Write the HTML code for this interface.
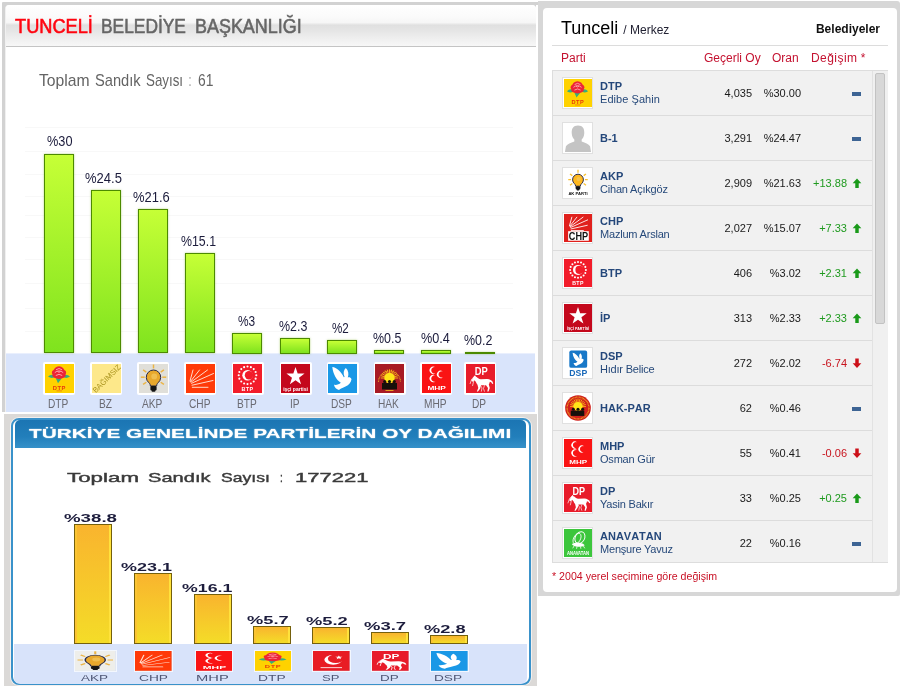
<!DOCTYPE html>
<html lang="tr">
<head>
<meta charset="utf-8">
<title>Tunceli Belediye Başkanlığı</title>
<style>
html,body{margin:0;padding:0;background:#fff;}
body{width:901px;height:698px;position:relative;overflow:hidden;font-family:"Liberation Sans",sans-serif;}
.t{position:absolute;white-space:nowrap;transform-origin:0 50%;}
svg{display:block;}
/* left top panel */
#p1{position:absolute;left:2px;top:2px;width:536px;height:410px;background:#d2d2d2;border-radius:1px 0 0 0;}
#p1r{position:absolute;left:536px;top:5px;width:2px;height:407px;background:#fff;}
#p1in{position:absolute;left:5px;top:5px;width:531px;height:407px;background:#fff;border-radius:4px 4px 0 0;overflow:hidden;border-left:1px solid #f0f0f0;box-sizing:border-box;}
#p1hd{position:absolute;left:0;top:0;width:530px;height:41px;background:linear-gradient(#ffffff 0,#fafafa 30%,#f6f6f6 43%,#e0e0e0 49%,#e5e5e5 62%,#eeeeee 80%,#f7f7f7 100%);border-bottom:1px solid #c4c4c4;}
.grid{position:absolute;left:25px;width:488px;height:1px;background:#f8f8f8;}
#band1{position:absolute;left:6px;top:353px;width:529px;height:59px;background:#d9e4fb;border-top:1px solid #e9effd;box-sizing:border-box;}
.gb{position:absolute;box-sizing:border-box;border:1px solid #4c8a00;background:linear-gradient(#c6ff36,#7fe31e);box-shadow:0 0 2px rgba(110,170,0,.5);}
.ic1{position:absolute;top:362px;width:32px;height:33px;background:#fff;border-radius:2px;}
.ic1 svg{position:absolute;left:1.5px;top:2px;width:29px;height:29px;}
/* left bottom panel */
#p2{position:absolute;left:4px;top:414px;width:532.5px;height:272px;background:#dbd9d7;}
#p2in{position:absolute;left:10.7px;top:418.3px;width:520.4px;height:267px;background:#fff;border:2px solid #3a92ca;border-radius:8px;box-sizing:border-box;box-shadow:0 0 0 1px #f4f0ee;}
#p2hd{position:absolute;left:14.8px;top:420px;width:511.6px;height:28.2px;background:linear-gradient(#1b75b3,#227fbb 60%,#3691c9);border-radius:5px 5px 0 0;}
#band2{position:absolute;left:14px;top:644px;width:512.5px;height:40px;background:#d8e3fa;border-radius:0 0 6px 6px;}
.yb{position:absolute;box-sizing:border-box;border:1.8px solid #74600c;background:linear-gradient(#f9b42e,#f4dc28);box-shadow:inset -2px 0 0 #ffe23c,inset 2px 0 0 #fbc432;filter:blur(.35px);}
.ic2{position:absolute;top:650.8px;width:42px;height:19.8px;box-shadow:0 0 0 1px rgba(255,255,255,.7);filter:blur(.3px);}
.ic2 svg{width:42px;height:19.8px;}
/* right panel */
#p3{position:absolute;left:538px;top:1px;width:362px;height:595px;background:#d7d7d7;border-radius:0 3px 2px 0;}
#p3in{position:absolute;left:543px;top:8px;width:354px;height:584px;background:#fff;border-radius:4px;}
.hl{position:absolute;left:552px;width:336px;height:1px;background:#dcdcdc;}
#tbl{position:absolute;left:552px;top:70px;width:336px;height:493px;background:#f1f1f1;border:1px solid #dddddd;box-sizing:border-box;}
.row{position:absolute;left:553px;width:319px;height:1px;background:#dcdcdc;}
.ib{position:absolute;left:562px;width:31px;height:32px;background:#fff;border:1px solid #e0e0e0;box-sizing:border-box;}
.ib svg{position:absolute;left:1px;top:1px;width:28px;height:28px;}
.nm{position:absolute;left:600px;font-size:11px;line-height:13px;font-weight:bold;color:#24477a;white-space:nowrap;font-kerning:none;}
.sb{position:absolute;left:600px;font-size:11px;line-height:13px;color:#26497a;white-space:nowrap;letter-spacing:-0.2px;}
.n1{position:absolute;left:652px;width:100px;text-align:right;font-size:11px;line-height:13px;color:#1a1a1a;}
.n2{position:absolute;left:701px;width:100px;text-align:right;font-size:11px;line-height:13px;color:#1a1a1a;}
.n3{position:absolute;left:747px;width:100px;text-align:right;font-size:11px;line-height:13px;}
.up{color:#1f9a1f;} .dn{color:#c8141e;}
.dash{position:absolute;left:852px;width:9px;height:4px;background:#3d6494;}
.ar{position:absolute;left:851.7px;width:10px;height:10.4px;}
.th{position:absolute;top:51px;font-size:12px;line-height:14px;color:#c41230;white-space:nowrap;}
#sbar{position:absolute;left:872px;top:71px;width:15px;height:491px;background:#f0f0f0;border-left:1px solid #e2e2e2;}
#sthumb{position:absolute;left:875px;top:73px;width:10px;height:251px;background:#d8d8d8;border:1px solid #c2c2c2;box-sizing:border-box;border-radius:2px;}
</style>
</head>
<body>

<div id="p1"></div><div id="p1r"></div><div id="p1in"><div id="p1hd"></div></div>
<div class="grid" style="top:127px"></div>
<div class="grid" style="top:151px"></div>
<div class="grid" style="top:174px"></div>
<div class="grid" style="top:196px"></div>
<div class="grid" style="top:215px"></div>
<div class="grid" style="top:237px"></div>
<div class="grid" style="top:259px"></div>
<div class="grid" style="top:283px"></div>
<div class="grid" style="top:308px"></div>
<div class="grid" style="top:331px"></div>
<div id="band1"></div>
<div class="t" style="left:15.30px;top:15.73px;font-size:19.30px;line-height:21.56px;color:#ff0510;transform:scaleX(0.9447);-webkit-text-stroke:.55px #ff0510;">TUNCELİ</div>
<div class="t" style="left:101.30px;top:15.73px;font-size:19.30px;line-height:21.56px;color:#666;transform:scaleX(0.9005);-webkit-text-stroke:.55px #666;">BELEDİYE</div>
<div class="t" style="left:195.20px;top:15.73px;font-size:19.30px;line-height:21.56px;color:#666;transform:scaleX(0.9305);-webkit-text-stroke:.55px #666;">BAŞKANLIĞI</div>
<div class="t" style="left:38.60px;top:71.21px;font-size:17.00px;line-height:18.99px;color:#646464;transform:scaleX(0.9250);">Toplam</div>
<div class="t" style="left:95.20px;top:71.21px;font-size:17.00px;line-height:18.99px;color:#646464;transform:scaleX(0.8611);">Sandık</div>
<div class="t" style="left:146.00px;top:71.21px;font-size:17.00px;line-height:18.99px;color:#646464;transform:scaleX(0.7832);">Sayısı</div>
<div class="t" style="left:188.90px;top:71.21px;font-size:17.00px;line-height:18.99px;color:#646464;transform:scaleX(0.4232);">:</div>
<div class="t" style="left:198.20px;top:71.21px;font-size:17.00px;line-height:18.99px;color:#646464;transform:scaleX(0.8146);">61</div>
<div class="gb" style="left:44px;top:154px;width:30px;height:199px;"></div>
<div class="t" style="left:46.65px;top:134.03px;font-size:14.00px;line-height:15.64px;color:#1c1c3c;transform:scaleX(0.9103);">%30</div>
<div class="ic1" style="left:43px"><svg viewBox="0 0 29 29" ><rect width="29" height="29" fill="#ffd200"/><path d="M3 12.6 Q6.500 9.200 10.800 12 Q7.500 15.800 3 12.600Z M25 12.600 Q21.500 9.200 17.200 12 Q20.500 15.800 25 12.600Z M10.800 14.300 L16.800 14.300 L13 19.200Z" fill="#36ae7e"/><circle cx="14" cy="8" r="5.700" fill="#ec2436"/><ellipse cx="14" cy="11.300" rx="6.600" ry="3.600" fill="#ec2436"/><circle cx="9.500" cy="8.500" r="2.600" fill="#ec2436"/><circle cx="18.500" cy="8.500" r="2.600" fill="#ec2436"/><path d="M11 5.800 q3 -2.600 6 0 M9.800 8.600 q4.200 -3.400 8.400 0 M10.800 11.500 q3.200 -2.400 6.400 0 M12.500 7.500 q1.500 1.500 3 0" stroke="#ffb4bc" stroke-width=".85" fill="none"/><text x="14.300" y="25.600" font-size="5.800" font-weight="bold" text-anchor="middle" fill="#e8380c" font-family="Liberation Sans, sans-serif" letter-spacing=".5">DTP</text><rect x="11.500" y="26.500" width="5.500" height=".8" fill="#e8380c" opacity=".6"/></svg></div>
<div class="t" style="left:48.36px;top:397.24px;font-size:13.00px;line-height:14.52px;color:#6a6a72;transform:scaleX(0.7800);">DTP</div>
<div class="gb" style="left:91px;top:190px;width:30px;height:163px;"></div>
<div class="t" style="left:85.45px;top:170.73px;font-size:14.00px;line-height:15.64px;color:#1c1c3c;transform:scaleX(0.9297);">%24.5</div>
<div class="ic1" style="left:90px"><svg viewBox="0 0 29 29" ><rect width="29" height="29" fill="#fde88a"/><text x="14.500" y="17.400" font-size="7.600" text-anchor="middle" fill="#a8921c" font-family="Liberation Sans, sans-serif" transform="rotate(-45 14.500 14.500)">BAĞIMSIZ</text></svg></div>
<div class="t" style="left:99.02px;top:397.24px;font-size:13.00px;line-height:14.52px;color:#6a6a72;transform:scaleX(0.7799);">BZ</div>
<div class="gb" style="left:138px;top:209px;width:30px;height:144px;"></div>
<div class="t" style="left:133.05px;top:189.73px;font-size:14.00px;line-height:15.64px;color:#1c1c3c;transform:scaleX(0.9247);">%21.6</div>
<div class="ic1" style="left:137px"><svg viewBox="0 0 29 29" ><rect width="29" height="29" fill="#e0dfd9"/><g stroke="#ecb444" stroke-width="1.5"><path d="M14.50 4.40 L14.50 0.50"/><path d="M7.29 8.15 L4.10 5.92"/><path d="M21.71 8.15 L24.90 5.92"/><path d="M5.70 13.20 L1.80 13.20"/><path d="M23.30 13.20 L27.20 13.20"/><path d="M7.29 18.25 L4.10 20.48"/><path d="M21.71 18.25 L24.90 20.48"/></g><path d="M9.89 18.74 a7.20 7.20 0 1 1 9.22 0 c-1.08 1.08 -1.44 1.80 -1.44 3.24 h-6.34 c0 -1.44 -0.36 -2.16 -1.44 -3.24 Z" fill="#e8a82c" stroke="#2a2a48" stroke-width="1"/><rect x="11.40" y="21.98" width="6.19" height="4.46" rx="1" fill="#151515"/><rect x="12.64" y="25.58" width="3.72" height="2.16" rx=".8" fill="#151515"/><circle cx="15.22" cy="12.48" r="2.88" fill="#f4c860" opacity=".7"/></svg></div>
<div class="t" style="left:142.35px;top:397.24px;font-size:13.00px;line-height:14.52px;color:#6a6a72;transform:scaleX(0.7800);">AKP</div>
<div class="gb" style="left:185px;top:253px;width:30px;height:100px;"></div>
<div class="t" style="left:180.80px;top:233.73px;font-size:14.00px;line-height:15.64px;color:#1c1c3c;transform:scaleX(0.8818);">%15.1</div>
<div class="ic1" style="left:184px"><svg viewBox="0 0 29 29" ><rect width="29" height="29" fill="#ff3a08"/><path d="M4.00 17.00 L7.00 6.00M4.50 17.50 L13.50 6.00M5.00 18.20 L21.50 6.00M5.50 19.30 L27.50 9.50M6.00 21.20 L27.00 16.50M6.30 23.30 L22.00 23.30" stroke="#ffe2d4" stroke-width="0.95" fill="none" stroke-linecap="round"/></svg></div>
<div class="t" style="left:188.80px;top:397.24px;font-size:13.00px;line-height:14.52px;color:#6a6a72;transform:scaleX(0.7801);">CHP</div>
<div class="gb" style="left:232px;top:333px;width:30px;height:21px;"></div>
<div class="t" style="left:238.40px;top:313.73px;font-size:14.00px;line-height:15.64px;color:#1c1c3c;transform:scaleX(0.8502);">%3</div>
<div class="ic1" style="left:231.5px"><svg viewBox="0 0 29 29" ><rect width="29" height="29" fill="#f21c2a"/><circle cx="23.30" cy="11.30" r="1.050" fill="#fff"/><circle cx="22.63" cy="14.67" r="1.050" fill="#fff"/><circle cx="20.72" cy="17.52" r="1.050" fill="#fff"/><circle cx="17.87" cy="19.43" r="1.050" fill="#fff"/><circle cx="14.50" cy="20.10" r="1.050" fill="#fff"/><circle cx="11.13" cy="19.43" r="1.050" fill="#fff"/><circle cx="8.28" cy="17.52" r="1.050" fill="#fff"/><circle cx="6.37" cy="14.67" r="1.050" fill="#fff"/><circle cx="5.70" cy="11.30" r="1.050" fill="#fff"/><circle cx="6.37" cy="7.93" r="1.050" fill="#fff"/><circle cx="8.28" cy="5.08" r="1.050" fill="#fff"/><circle cx="11.13" cy="3.17" r="1.050" fill="#fff"/><circle cx="14.50" cy="2.50" r="1.050" fill="#fff"/><circle cx="17.87" cy="3.17" r="1.050" fill="#fff"/><circle cx="20.72" cy="5.08" r="1.050" fill="#fff"/><circle cx="22.63" cy="7.93" r="1.050" fill="#fff"/><circle cx="14.5" cy="11.3" r="5.200" fill="#fff"/><circle cx="16" cy="11.3" r="4.200" fill="#f21c2a"/><text x="14.500" y="26.600" font-size="5.400" font-weight="bold" text-anchor="middle" fill="#fff" font-family="Liberation Sans, sans-serif" letter-spacing=".4">BTP</text></svg></div>
<div class="t" style="left:236.64px;top:397.24px;font-size:13.00px;line-height:14.52px;color:#6a6a72;transform:scaleX(0.7799);">BTP</div>
<div class="gb" style="left:280px;top:338px;width:30px;height:16px;"></div>
<div class="t" style="left:279.30px;top:318.73px;font-size:14.00px;line-height:15.64px;color:#1c1c3c;transform:scaleX(0.8901);">%2.3</div>
<div class="ic1" style="left:279.5px"><svg viewBox="0 0 29 29" ><rect width="29" height="29" fill="#c4081c"/><path d="M14.50 3.00 L16.67 9.51 L23.54 9.56 L18.02 13.64 L20.08 20.19 L14.50 16.20 L8.92 20.19 L10.98 13.64 L5.46 9.56 L12.33 9.51Z" fill="#fff"/><text x="14.500" y="26.800" font-size="5" font-weight="bold" text-anchor="middle" fill="#fff" font-family="Liberation Sans, sans-serif">işçi partisi</text></svg></div>
<div class="t" style="left:289.71px;top:397.24px;font-size:13.00px;line-height:14.52px;color:#6a6a72;transform:scaleX(0.7799);">IP</div>
<div class="gb" style="left:327px;top:340px;width:30px;height:14px;"></div>
<div class="t" style="left:331.80px;top:320.73px;font-size:14.00px;line-height:15.64px;color:#1c1c3c;transform:scaleX(0.8304);">%2</div>
<div class="ic1" style="left:326.5px"><svg viewBox="0 0 29 29" ><rect width="29" height="29" fill="#1a98e6"/><path d="M4.300 3 C8.500 3.500 13.500 8 15.800 13.200 L16.600 13 C15 9.500 15.500 6 17.800 4 C20.500 6.500 21 10.500 19.800 13.500 C21.300 13 22.800 13.500 23.500 15.300 C23 18.500 21 21 17.500 22.500 C14.500 24 12.500 24.500 11 26 C8.500 25.500 6.500 23.500 6 20.800 C8.500 21.300 11 20.500 12.800 18.800 C8.500 16 5 10 4.300 3Z" fill="#fff"/></svg></div>
<div class="t" style="left:331.08px;top:397.24px;font-size:13.00px;line-height:14.52px;color:#6a6a72;transform:scaleX(0.7801);">DSP</div>
<div class="gb" style="left:374px;top:350px;width:30px;height:4px;"></div>
<div class="t" style="left:373.40px;top:330.73px;font-size:14.00px;line-height:15.64px;color:#1c1c3c;transform:scaleX(0.8901);">%0.5</div>
<div class="ic1" style="left:373.5px"><svg viewBox="0 0 29 29" ><rect width="29" height="29" fill="#a81a24"/><path d="M3.500 18 A11 11 0 0 1 25.500 18" fill="none" stroke="#e8a020" stroke-width="1.100" stroke-dasharray=".9 .6"/><g stroke="#f8a818" stroke-width="1"><path d="M14.50 14.00 L5.80 14.00"/><path d="M14.50 14.00 L6.10 11.75"/><path d="M14.50 14.00 L6.97 9.65"/><path d="M14.50 14.00 L8.35 7.85"/><path d="M14.50 14.00 L10.15 6.47"/><path d="M14.50 14.00 L12.25 5.60"/><path d="M14.50 14.00 L14.50 5.30"/><path d="M14.50 14.00 L16.75 5.60"/><path d="M14.50 14.00 L18.85 6.47"/><path d="M14.50 14.00 L20.65 7.85"/><path d="M14.50 14.00 L22.03 9.65"/><path d="M14.50 14.00 L22.90 11.75"/><path d="M14.50 14.00 L23.20 14.00"/></g><circle cx="14.5" cy="14" r="5.2" fill="#ffe418"/><circle cx="9.70" cy="17.60" r="1.600" fill="#16100a"/><circle cx="14.50" cy="17.60" r="1.600" fill="#16100a"/><circle cx="19.30" cy="17.60" r="1.600" fill="#16100a"/><path d="M7.00 19.00 h15 v6.500 h-15Z" fill="#16100a"/><rect x="10.500" y="26" width="8" height="1" fill="#e8a020"/></svg></div>
<div class="t" style="left:378.08px;top:397.24px;font-size:13.00px;line-height:14.52px;color:#6a6a72;transform:scaleX(0.7801);">HAK</div>
<div class="gb" style="left:421px;top:350px;width:30px;height:4px;"></div>
<div class="t" style="left:421.00px;top:330.73px;font-size:14.00px;line-height:15.64px;color:#1c1c3c;transform:scaleX(0.9027);">%0.4</div>
<div class="ic1" style="left:420.2px"><svg viewBox="0 0 29 29" ><rect width="29" height="29" fill="#fa1414"/><path d="M13.46 3.30 A3.70 3.70 0 1 0 13.46 9.30 A3.18 3.18 0 1 1 13.46 3.30Z" fill="#fff"/><path d="M20.76 7.40 A3.70 3.70 0 1 0 20.76 13.40 A3.18 3.18 0 1 1 20.76 7.40Z" fill="#fff"/><path d="M13.46 11.50 A3.70 3.70 0 1 0 13.46 17.50 A3.18 3.18 0 1 1 13.46 11.50Z" fill="#fff"/><text x="14.700" y="25.800" font-size="5.8" font-weight="bold" text-anchor="middle" fill="#fff" font-family="Liberation Sans, sans-serif" textLength="18.500" lengthAdjust="spacingAndGlyphs">MHP</text></svg></div>
<div class="t" style="left:424.23px;top:397.24px;font-size:13.00px;line-height:14.52px;color:#6a6a72;transform:scaleX(0.7801);">MHP</div>
<div class="gb" style="left:465px;top:352px;width:30px;height:2px;"></div>
<div class="t" style="left:464.40px;top:332.73px;font-size:14.00px;line-height:15.64px;color:#1c1c3c;transform:scaleX(0.8901);">%0.2</div>
<div class="ic1" style="left:464px"><svg viewBox="0 0 29 29" ><rect width="29" height="29" fill="#e81c2a"/><text x="15.300" y="11" font-size="11.400" font-weight="bold" text-anchor="middle" fill="#fff" font-family="Liberation Sans, sans-serif" textLength="13" lengthAdjust="spacingAndGlyphs">DP</text><path d="M5.300 16.800 L7.800 12.600 L9 11.300 L9.800 12.600 L12.200 14.200 Q13.500 15.400 15 15.300 L20.500 15 Q23 14.800 24.500 16 Q26.500 16.300 27.300 19.500 L26.300 20 Q25.300 17.800 23.800 17.800 Q23.500 19.500 22.800 20.500 L23.800 24 L22.500 27.600 L21.300 27.600 L22 24 L20 21.300 L15 21.300 L14.200 24.500 L12 27.600 L10.800 27.600 L12.300 24 L11.500 20.800 Q10.300 19.500 9.800 17.800 L8.300 16.300 L6.800 17.800Z" fill="#fff"/><path d="M9 12 Q5 14 4 20 M10.500 13 Q7 16 6.500 22 M18.500 21.300 L17.500 24.500 L18.500 27.600 M14.500 21.300 L16 24 L15.300 27.600" stroke="#fff" stroke-width=".8" fill="none" opacity=".85"/></svg></div>
<div class="t" style="left:472.46px;top:397.24px;font-size:13.00px;line-height:14.52px;color:#6a6a72;transform:scaleX(0.7801);">DP</div>
<div id="p2"></div><div id="p2in"></div><div id="p2hd"></div><div id="band2"></div>
<div class="t" style="left:28.60px;top:426.19px;font-size:13.60px;line-height:15.19px;color:#fff;font-weight:bold;transform:scaleX(1.5298);text-shadow:0 0 1px #fff;">TÜRKİYE GENELİNDE PARTİLERİN OY DAĞILIMI</div>
<div class="t" style="left:66.70px;top:470.55px;font-size:13.20px;line-height:14.74px;color:#3a3a3a;transform:scaleX(1.6942);filter:blur(.4px);-webkit-text-stroke:.4px #3a3a3a;">Toplam</div>
<div class="t" style="left:148.20px;top:470.55px;font-size:13.20px;line-height:14.74px;color:#3a3a3a;transform:scaleX(1.5224);filter:blur(.4px);-webkit-text-stroke:.4px #3a3a3a;">Sandık</div>
<div class="t" style="left:220.60px;top:470.55px;font-size:13.20px;line-height:14.74px;color:#3a3a3a;transform:scaleX(1.3330);filter:blur(.4px);-webkit-text-stroke:.4px #3a3a3a;">Sayısı</div>
<div class="t" style="left:279.80px;top:470.55px;font-size:13.20px;line-height:14.74px;color:#3a3a3a;transform:scaleX(0.7630);filter:blur(.4px);-webkit-text-stroke:.4px #3a3a3a;">:</div>
<div class="t" style="left:294.50px;top:470.55px;font-size:13.20px;line-height:14.74px;color:#3a3a3a;transform:scaleX(1.6686);filter:blur(.4px);-webkit-text-stroke:.4px #3a3a3a;">177221</div>
<div class="yb" style="left:74.2px;top:524px;width:38.2px;height:120.4px;"></div>
<div class="t" style="left:64.00px;top:511.66px;font-size:11.20px;line-height:12.51px;color:#1c1c3c;font-weight:bold;transform:scaleX(1.6692);filter:blur(.3px);">%38.8</div>
<div class="ic2" style="left:75.0px;width:40.5px"><svg style="width:40.5px" preserveAspectRatio="none" viewBox="0 0 29 29" ><rect width="29" height="29" fill="#eeeeea"/><g stroke="#ecb444" stroke-width="1.5"><path d="M14.50 4.40 L14.50 0.50"/><path d="M7.29 8.15 L4.10 5.92"/><path d="M21.71 8.15 L24.90 5.92"/><path d="M5.70 13.20 L1.80 13.20"/><path d="M23.30 13.20 L27.20 13.20"/><path d="M7.29 18.25 L4.10 20.48"/><path d="M21.71 18.25 L24.90 20.48"/></g><path d="M9.89 18.74 a7.20 7.20 0 1 1 9.22 0 c-1.08 1.08 -1.44 1.80 -1.44 3.24 h-6.34 c0 -1.44 -0.36 -2.16 -1.44 -3.24 Z" fill="#e8a82c" stroke="#2a2a48" stroke-width="1"/><rect x="11.40" y="21.98" width="6.19" height="4.46" rx="1" fill="#151515"/><rect x="12.64" y="25.58" width="3.72" height="2.16" rx=".8" fill="#151515"/><circle cx="15.22" cy="12.48" r="2.88" fill="#f4c860" opacity=".7"/></svg></div>
<div class="t" style="left:81.10px;top:672.98px;font-size:9.30px;line-height:10.39px;color:#4e5674;transform:scaleX(1.4509);filter:blur(.3px);">AKP</div>
<div class="yb" style="left:133.7px;top:573px;width:38.2px;height:71.4px;"></div>
<div class="t" style="left:121.00px;top:560.66px;font-size:11.20px;line-height:12.51px;color:#1c1c3c;font-weight:bold;transform:scaleX(1.6062);filter:blur(.3px);">%23.1</div>
<div class="ic2" style="left:135.0px;width:36.6px"><svg style="width:36.6px" preserveAspectRatio="none" viewBox="0 0 29 29" ><rect width="29" height="29" fill="#ff3a08"/><path d="M4.00 17.00 L7.00 6.00M4.50 17.50 L13.50 6.00M5.00 18.20 L21.50 6.00M5.50 19.30 L27.50 9.50M6.00 21.20 L27.00 16.50M6.30 23.30 L22.00 23.30" stroke="#ffe2d4" stroke-width="0.95" fill="none" stroke-linecap="round"/></svg></div>
<div class="t" style="left:138.70px;top:672.98px;font-size:9.30px;line-height:10.39px;color:#4e5674;transform:scaleX(1.4772);filter:blur(.3px);">CHP</div>
<div class="yb" style="left:194.2px;top:594px;width:38.2px;height:50.4px;"></div>
<div class="t" style="left:182.00px;top:581.66px;font-size:11.20px;line-height:12.51px;color:#1c1c3c;font-weight:bold;transform:scaleX(1.5873);filter:blur(.3px);">%16.1</div>
<div class="ic2" style="left:195.5px;width:36.6px"><svg style="width:36.6px" preserveAspectRatio="none" viewBox="0 0 29 29" ><rect width="29" height="29" fill="#fa1414"/><path d="M13.46 3.30 A3.70 3.70 0 1 0 13.46 9.30 A3.18 3.18 0 1 1 13.46 3.30Z" fill="#fff"/><path d="M20.76 7.40 A3.70 3.70 0 1 0 20.76 13.40 A3.18 3.18 0 1 1 20.76 7.40Z" fill="#fff"/><path d="M13.46 11.50 A3.70 3.70 0 1 0 13.46 17.50 A3.18 3.18 0 1 1 13.46 11.50Z" fill="#fff"/><text x="14.700" y="25.800" font-size="5.8" font-weight="bold" text-anchor="middle" fill="#fff" font-family="Liberation Sans, sans-serif" textLength="18.500" lengthAdjust="spacingAndGlyphs">MHP</text></svg></div>
<div class="t" style="left:196.00px;top:672.98px;font-size:9.30px;line-height:10.39px;color:#4e5674;transform:scaleX(1.5824);filter:blur(.3px);">MHP</div>
<div class="yb" style="left:253.2px;top:626px;width:38.2px;height:18.4px;"></div>
<div class="t" style="left:246.60px;top:613.66px;font-size:11.20px;line-height:12.51px;color:#1c1c3c;font-weight:bold;transform:scaleX(1.6337);filter:blur(.3px);">%5.7</div>
<div class="ic2" style="left:254.5px;width:36.6px"><svg style="width:36.6px" preserveAspectRatio="none" viewBox="0 0 29 29" ><rect width="29" height="29" fill="#ffd200"/><path d="M3 12.6 Q6.500 9.200 10.800 12 Q7.500 15.800 3 12.600Z M25 12.600 Q21.500 9.200 17.200 12 Q20.500 15.800 25 12.600Z M10.800 14.300 L16.800 14.300 L13 19.200Z" fill="#36ae7e"/><circle cx="14" cy="8" r="5.700" fill="#ec2436"/><ellipse cx="14" cy="11.300" rx="6.600" ry="3.600" fill="#ec2436"/><circle cx="9.500" cy="8.500" r="2.600" fill="#ec2436"/><circle cx="18.500" cy="8.500" r="2.600" fill="#ec2436"/><path d="M11 5.800 q3 -2.600 6 0 M9.800 8.600 q4.200 -3.400 8.400 0 M10.800 11.500 q3.200 -2.400 6.400 0 M12.500 7.500 q1.500 1.500 3 0" stroke="#ffb4bc" stroke-width=".85" fill="none"/><text x="14.300" y="25.600" font-size="5.800" font-weight="bold" text-anchor="middle" fill="#e8380c" font-family="Liberation Sans, sans-serif" letter-spacing=".5">DTP</text><rect x="11.500" y="26.500" width="5.500" height=".8" fill="#e8380c" opacity=".6"/></svg></div>
<div class="t" style="left:257.90px;top:672.98px;font-size:9.30px;line-height:10.39px;color:#4e5674;transform:scaleX(1.4839);filter:blur(.3px);">DTP</div>
<div class="yb" style="left:311.7px;top:627px;width:38.2px;height:17.4px;"></div>
<div class="t" style="left:306.00px;top:614.66px;font-size:11.20px;line-height:12.51px;color:#1c1c3c;font-weight:bold;transform:scaleX(1.6376);filter:blur(.3px);">%5.2</div>
<div class="ic2" style="left:313.0px;width:36.6px"><svg style="width:36.6px" preserveAspectRatio="none" viewBox="0 0 29 29" ><rect width="29" height="29" fill="#e81c24"/><circle cx="16" cy="13" r="7" fill="#fff"/><circle cx="18" cy="11.500" r="6.200" fill="#e81c24"/><path d="M20.50 6.50 L21.21 8.53 L23.35 8.57 L21.64 9.87 L22.26 11.93 L20.50 10.70 L18.74 11.93 L19.36 9.87 L17.65 8.57 L19.79 8.53Z" fill="#fff"/><rect x="6" y="23.500" width="17" height="1.600" fill="#fff" opacity=".75"/></svg></div>
<div class="t" style="left:321.80px;top:672.98px;font-size:9.30px;line-height:10.39px;color:#4e5674;transform:scaleX(1.4025);filter:blur(.3px);">SP</div>
<div class="yb" style="left:370.7px;top:632px;width:38.2px;height:12.4px;"></div>
<div class="t" style="left:364.30px;top:619.66px;font-size:11.20px;line-height:12.51px;color:#1c1c3c;font-weight:bold;transform:scaleX(1.6494);filter:blur(.3px);">%3.7</div>
<div class="ic2" style="left:372.0px;width:36.6px"><svg style="width:36.6px" preserveAspectRatio="none" viewBox="0 0 29 29" ><rect width="29" height="29" fill="#e81c2a"/><text x="15.300" y="11" font-size="11.400" font-weight="bold" text-anchor="middle" fill="#fff" font-family="Liberation Sans, sans-serif" textLength="13" lengthAdjust="spacingAndGlyphs">DP</text><path d="M5.300 16.800 L7.800 12.600 L9 11.300 L9.800 12.600 L12.200 14.200 Q13.500 15.400 15 15.300 L20.500 15 Q23 14.800 24.500 16 Q26.500 16.300 27.300 19.500 L26.300 20 Q25.300 17.800 23.800 17.800 Q23.500 19.500 22.800 20.500 L23.800 24 L22.500 27.600 L21.300 27.600 L22 24 L20 21.300 L15 21.300 L14.200 24.500 L12 27.600 L10.800 27.600 L12.300 24 L11.500 20.800 Q10.300 19.500 9.800 17.800 L8.300 16.300 L6.800 17.800Z" fill="#fff"/><path d="M9 12 Q5 14 4 20 M10.500 13 Q7 16 6.500 22 M18.500 21.300 L17.500 24.500 L18.500 27.600 M14.500 21.300 L16 24 L15.300 27.600" stroke="#fff" stroke-width=".8" fill="none" opacity=".85"/></svg></div>
<div class="t" style="left:379.60px;top:672.98px;font-size:9.30px;line-height:10.39px;color:#4e5674;transform:scaleX(1.4476);filter:blur(.3px);">DP</div>
<div class="yb" style="left:429.7px;top:635px;width:38.2px;height:9.4px;"></div>
<div class="t" style="left:423.70px;top:622.66px;font-size:11.20px;line-height:12.51px;color:#1c1c3c;font-weight:bold;transform:scaleX(1.6298);filter:blur(.3px);">%2.8</div>
<div class="ic2" style="left:431.0px;width:36.6px"><svg style="width:36.6px" preserveAspectRatio="none" viewBox="0 0 29 29" ><rect width="29" height="29" fill="#1a98e6"/><path d="M4.300 3 C8.500 3.500 13.500 8 15.800 13.200 L16.600 13 C15 9.500 15.500 6 17.800 4 C20.500 6.500 21 10.500 19.800 13.500 C21.300 13 22.800 13.500 23.500 15.300 C23 18.500 21 21 17.500 22.500 C14.500 24 12.500 24.500 11 26 C8.500 25.500 6.500 23.500 6 20.800 C8.500 21.300 11 20.500 12.800 18.800 C8.500 16 5 10 4.300 3Z" fill="#fff"/></svg></div>
<div class="t" style="left:434.40px;top:672.98px;font-size:9.30px;line-height:10.39px;color:#4e5674;transform:scaleX(1.4644);filter:blur(.3px);">DSP</div>
<div id="p3"></div><div id="p3in"></div>
<div class="hl" style="top:45px"></div>
<div class="t" style="left:561px;top:18px;font-size:18px;line-height:21px;color:#000;">Tunceli <span style="font-size:12px;color:#223">/ Merkez</span></div>
<div class="t" style="left:780px;width:100px;text-align:right;top:22px;font-size:12px;line-height:14px;font-weight:bold;color:#111;">Belediyeler</div>
<div class="th" style="left:561px">Parti</div><div class="th" style="left:704px">Geçerli Oy</div><div class="th" style="left:772px">Oran</div><div class="th" style="left:811px;letter-spacing:.45px">Değişim <span style="margin-left:-.6px">*</span></div>
<div id="tbl"></div><div id="sbar"></div><div id="sthumb"></div>
<div class="ib" style="top:77px"><svg viewBox="0 0 29 29" ><rect width="29" height="29" fill="#ffd200"/><path d="M3 12.6 Q6.500 9.200 10.800 12 Q7.500 15.800 3 12.600Z M25 12.600 Q21.500 9.200 17.200 12 Q20.500 15.800 25 12.600Z M10.800 14.300 L16.800 14.300 L13 19.200Z" fill="#36ae7e"/><circle cx="14" cy="8" r="5.700" fill="#ec2436"/><ellipse cx="14" cy="11.300" rx="6.600" ry="3.600" fill="#ec2436"/><circle cx="9.500" cy="8.500" r="2.600" fill="#ec2436"/><circle cx="18.500" cy="8.500" r="2.600" fill="#ec2436"/><path d="M11 5.800 q3 -2.600 6 0 M9.800 8.600 q4.200 -3.400 8.400 0 M10.800 11.500 q3.200 -2.400 6.400 0 M12.500 7.500 q1.500 1.500 3 0" stroke="#ffb4bc" stroke-width=".85" fill="none"/><text x="14.300" y="25.600" font-size="5.800" font-weight="bold" text-anchor="middle" fill="#e8380c" font-family="Liberation Sans, sans-serif" letter-spacing=".5">DTP</text><rect x="11.500" y="26.500" width="5.500" height=".8" fill="#e8380c" opacity=".6"/></svg></div>
<div class="nm" style="top:80px">DTP</div><div class="sb" style="top:93px;letter-spacing:.05px">Edibe Şahin</div>
<div class="n1" style="top:87px">4,035</div><div class="n2" style="top:87px">%30.00</div>
<div class="dash" style="top:92px"></div>
<div class="row" style="top:115px"></div>
<div class="ib" style="top:122px"><svg viewBox="0 0 29 29" ><rect width="29" height="29" fill="#fff"/><path d="M14.500 1.500 C19.500 1.500 21.300 5 21 9.500 C20.800 12.800 19.500 15 18.300 16 L18.300 18 C22 19.500 25.500 20.500 27 23 L28 29 L1 29 L2 23 C3.500 20.500 7 19.500 10.700 18 L10.700 16 C9.500 15 8.200 12.800 8 9.500 C7.700 5 9.500 1.500 14.500 1.500Z" fill="#c4c4c4"/></svg></div>
<div class="nm" style="top:132px">B-1</div>
<div class="n1" style="top:132px">3,291</div><div class="n2" style="top:132px">%24.47</div>
<div class="dash" style="top:137px"></div>
<div class="row" style="top:160px"></div>
<div class="ib" style="top:167px"><svg viewBox="0 0 29 29" ><rect width="29" height="29" fill="#fff"/><g stroke="#f8c030" stroke-width="1.3"><path d="M14.50 3.80 L14.50 0.90"/><path d="M8.60 6.87 L6.23 5.21"/><path d="M20.40 6.87 L22.77 5.21"/><path d="M7.30 11.00 L4.40 11.00"/><path d="M21.70 11.00 L24.60 11.00"/><path d="M8.60 15.13 L6.23 16.79"/><path d="M20.40 15.13 L22.77 16.79"/></g><path d="M10.92 15.31 a5.60 5.60 0 1 1 7.17 0 c-0.84 0.84 -1.12 1.40 -1.12 2.52 h-4.93 c0 -1.12 -0.28 -1.68 -1.12 -2.52 Z" fill="#ffb81c" stroke="#2a2a48" stroke-width="1"/><rect x="12.09" y="17.83" width="4.82" height="3.47" rx="1" fill="#151515"/><rect x="13.06" y="20.63" width="2.89" height="1.68" rx=".8" fill="#151515"/><circle cx="15.06" cy="10.44" r="2.24" fill="#f4c860" opacity=".7"/><text x="14.500" y="26.800" font-size="4.300" font-weight="bold" text-anchor="middle" fill="#111" font-family="Liberation Sans, sans-serif">AK PARTİ</text></svg></div>
<div class="nm" style="top:170px">AKP</div><div class="sb" style="top:183px">Cihan Açıkgöz</div>
<div class="n1" style="top:177px">2,909</div><div class="n2" style="top:177px">%21.63</div>
<div class="n3 up" style="top:177px">+13.88</div>
<svg class="ar" style="top:178px" viewBox="0 0 11 12"><path d="M5.500 0.500 L10.500 6 H7.500 V11.500 H3.500 V6 H0.500Z" fill="#1a9a1a"/></svg>
<div class="row" style="top:205px"></div>
<div class="ib" style="top:212px"><svg viewBox="0 0 29 29" ><rect width="29" height="29" fill="#e0201c"/><path d="M5.70 12.10 L8.10 3.30M6.10 12.50 L13.30 3.30M6.50 13.06 L19.70 3.30M6.90 13.94 L24.50 6.10M7.30 15.46 L24.10 11.70M7.54 17.14 L20.10 17.14" stroke="#fff" stroke-width="0.9" fill="none" stroke-linecap="round"/><rect x="4.300" y="17.800" width="21.400" height="9.900" fill="#fff"/><text x="15" y="26.500" font-size="10.400" font-weight="bold" text-anchor="middle" fill="#111" font-family="Liberation Sans, sans-serif" textLength="20" lengthAdjust="spacingAndGlyphs">CHP</text></svg></div>
<div class="nm" style="top:215px">CHP</div><div class="sb" style="top:228px">Mazlum Arslan</div>
<div class="n1" style="top:222px">2,027</div><div class="n2" style="top:222px">%15.07</div>
<div class="n3 up" style="top:222px">+7.33</div>
<svg class="ar" style="top:223px" viewBox="0 0 11 12"><path d="M5.500 0.500 L10.500 6 H7.500 V11.500 H3.500 V6 H0.500Z" fill="#1a9a1a"/></svg>
<div class="row" style="top:250px"></div>
<div class="ib" style="top:257px"><svg viewBox="0 0 29 29" ><rect width="29" height="29" fill="#f21c2a"/><circle cx="22.70" cy="11.30" r="1.050" fill="#fff"/><circle cx="22.08" cy="14.44" r="1.050" fill="#fff"/><circle cx="20.30" cy="17.10" r="1.050" fill="#fff"/><circle cx="17.64" cy="18.88" r="1.050" fill="#fff"/><circle cx="14.50" cy="19.50" r="1.050" fill="#fff"/><circle cx="11.36" cy="18.88" r="1.050" fill="#fff"/><circle cx="8.70" cy="17.10" r="1.050" fill="#fff"/><circle cx="6.92" cy="14.44" r="1.050" fill="#fff"/><circle cx="6.30" cy="11.30" r="1.050" fill="#fff"/><circle cx="6.92" cy="8.16" r="1.050" fill="#fff"/><circle cx="8.70" cy="5.50" r="1.050" fill="#fff"/><circle cx="11.36" cy="3.72" r="1.050" fill="#fff"/><circle cx="14.50" cy="3.10" r="1.050" fill="#fff"/><circle cx="17.64" cy="3.72" r="1.050" fill="#fff"/><circle cx="20.30" cy="5.50" r="1.050" fill="#fff"/><circle cx="22.08" cy="8.16" r="1.050" fill="#fff"/><circle cx="14.5" cy="11.3" r="5.200" fill="#fff"/><circle cx="16" cy="11.3" r="4.200" fill="#f21c2a"/><text x="14.500" y="26.600" font-size="5.400" font-weight="bold" text-anchor="middle" fill="#fff" font-family="Liberation Sans, sans-serif" letter-spacing=".4">BTP</text></svg></div>
<div class="nm" style="top:267px">BTP</div>
<div class="n1" style="top:267px">406</div><div class="n2" style="top:267px">%3.02</div>
<div class="n3 up" style="top:267px">+2.31</div>
<svg class="ar" style="top:268px" viewBox="0 0 11 12"><path d="M5.500 0.500 L10.500 6 H7.500 V11.500 H3.500 V6 H0.500Z" fill="#1a9a1a"/></svg>
<div class="row" style="top:295px"></div>
<div class="ib" style="top:302px"><svg viewBox="0 0 29 29" ><rect width="29" height="29" fill="#c4081c"/><path d="M14.50 3.00 L16.67 9.51 L23.54 9.56 L18.02 13.64 L20.08 20.19 L14.50 16.20 L8.92 20.19 L10.98 13.64 L5.46 9.56 L12.33 9.51Z" fill="#fff"/><text x="14.500" y="26.800" font-size="3.8" font-weight="bold" text-anchor="middle" fill="#fff" font-family="Liberation Sans, sans-serif">İŞÇİ PARTİSİ</text></svg></div>
<div class="nm" style="top:312px">İP</div>
<div class="n1" style="top:312px">313</div><div class="n2" style="top:312px">%2.33</div>
<div class="n3 up" style="top:312px">+2.33</div>
<svg class="ar" style="top:313px" viewBox="0 0 11 12"><path d="M5.500 0.500 L10.500 6 H7.500 V11.500 H3.500 V6 H0.500Z" fill="#1a9a1a"/></svg>
<div class="row" style="top:340px"></div>
<div class="ib" style="top:347px"><svg viewBox="0 0 29 29" ><rect width="29" height="29" fill="#fff"/><rect x="5.500" y="1.500" width="18.500" height="18" rx="2" fill="#1878c8"/><path d="M4.300 3 C8.500 3.500 13.500 8 15.800 13.200 L16.600 13 C15 9.500 15.500 6 17.800 4 C20.500 6.500 21 10.500 19.800 13.500 C21.300 13 22.800 13.500 23.500 15.300 C23 18.500 21 21 17.500 22.500 C14.500 24 12.500 24.500 11 26 C8.500 25.500 6.500 23.500 6 20.800 C8.500 21.300 11 20.500 12.800 18.800 C8.500 16 5 10 4.300 3Z" fill="#fff" transform="translate(6.300 2) scale(.6)"/><text x="14.800" y="28.300" font-size="9" font-weight="bold" text-anchor="middle" fill="#1868b8" font-family="Liberation Sans, sans-serif">DSP</text></svg></div>
<div class="nm" style="top:350px">DSP</div><div class="sb" style="top:363px">Hıdır Belice</div>
<div class="n1" style="top:357px">272</div><div class="n2" style="top:357px">%2.02</div>
<div class="n3 dn" style="top:357px">-6.74</div>
<svg class="ar" style="top:358px" viewBox="0 0 11 12"><path d="M5.500 11.500 L10.500 6 H7.500 V0.500 H3.500 V6 H0.500Z" fill="#cc1018"/></svg>
<div class="row" style="top:385px"></div>
<div class="ib" style="top:392px"><svg viewBox="0 0 29 29" ><rect width="29" height="29" fill="#fff"/><circle cx="14.500" cy="14.500" r="13.300" fill="#d0201c"/><circle cx="14.500" cy="14.500" r="11.300" fill="none" stroke="#f0a820" stroke-width="1.300" stroke-dasharray=".9 .6"/><g stroke="#f8a818" stroke-width="1"><path d="M14.50 13.00 L6.20 13.00"/><path d="M14.50 13.00 L6.48 10.85"/><path d="M14.50 13.00 L7.31 8.85"/><path d="M14.50 13.00 L8.63 7.13"/><path d="M14.50 13.00 L10.35 5.81"/><path d="M14.50 13.00 L12.35 4.98"/><path d="M14.50 13.00 L14.50 4.70"/><path d="M14.50 13.00 L16.65 4.98"/><path d="M14.50 13.00 L18.65 5.81"/><path d="M14.50 13.00 L20.37 7.13"/><path d="M14.50 13.00 L21.69 8.85"/><path d="M14.50 13.00 L22.52 10.85"/><path d="M14.50 13.00 L22.80 13.00"/></g><circle cx="14.5" cy="13" r="4.8" fill="#ffe418"/><circle cx="9.70" cy="15.80" r="1.600" fill="#16100a"/><circle cx="14.50" cy="15.80" r="1.600" fill="#16100a"/><circle cx="19.30" cy="15.80" r="1.600" fill="#16100a"/><path d="M7.00 17.20 h14 v5.500 h-14Z" fill="#16100a"/></svg></div>
<div class="nm" style="top:402px">HAK-PAR</div>
<div class="n1" style="top:402px">62</div><div class="n2" style="top:402px">%0.46</div>
<div class="dash" style="top:407px"></div>
<div class="row" style="top:430px"></div>
<div class="ib" style="top:437px"><svg viewBox="0 0 29 29" ><rect width="29" height="29" fill="#fa1414"/><path d="M13.46 3.30 A3.70 3.70 0 1 0 13.46 9.30 A3.18 3.18 0 1 1 13.46 3.30Z" fill="#fff"/><path d="M20.76 7.40 A3.70 3.70 0 1 0 20.76 13.40 A3.18 3.18 0 1 1 20.76 7.40Z" fill="#fff"/><path d="M13.46 11.50 A3.70 3.70 0 1 0 13.46 17.50 A3.18 3.18 0 1 1 13.46 11.50Z" fill="#fff"/><text x="14.700" y="25.800" font-size="5.8" font-weight="bold" text-anchor="middle" fill="#fff" font-family="Liberation Sans, sans-serif" textLength="18.500" lengthAdjust="spacingAndGlyphs">MHP</text></svg></div>
<div class="nm" style="top:440px">MHP</div><div class="sb" style="top:453px">Osman Gür</div>
<div class="n1" style="top:447px">55</div><div class="n2" style="top:447px">%0.41</div>
<div class="n3 dn" style="top:447px">-0.06</div>
<svg class="ar" style="top:448px" viewBox="0 0 11 12"><path d="M5.500 11.500 L10.500 6 H7.500 V0.500 H3.500 V6 H0.500Z" fill="#cc1018"/></svg>
<div class="row" style="top:475px"></div>
<div class="ib" style="top:482px"><svg viewBox="0 0 29 29" ><rect width="29" height="29" fill="#e81c2a"/><text x="15.300" y="11" font-size="11.400" font-weight="bold" text-anchor="middle" fill="#fff" font-family="Liberation Sans, sans-serif" textLength="13" lengthAdjust="spacingAndGlyphs">DP</text><path d="M5.300 16.800 L7.800 12.600 L9 11.300 L9.800 12.600 L12.200 14.200 Q13.500 15.400 15 15.300 L20.500 15 Q23 14.800 24.500 16 Q26.500 16.300 27.300 19.500 L26.300 20 Q25.300 17.800 23.800 17.800 Q23.500 19.500 22.800 20.500 L23.800 24 L22.500 27.600 L21.300 27.600 L22 24 L20 21.300 L15 21.300 L14.200 24.500 L12 27.600 L10.800 27.600 L12.300 24 L11.500 20.800 Q10.300 19.500 9.800 17.800 L8.300 16.300 L6.800 17.800Z" fill="#fff"/><path d="M9 12 Q5 14 4 20 M10.500 13 Q7 16 6.500 22 M18.500 21.300 L17.500 24.500 L18.500 27.600 M14.500 21.300 L16 24 L15.300 27.600" stroke="#fff" stroke-width=".8" fill="none" opacity=".85"/></svg></div>
<div class="nm" style="top:485px">DP</div><div class="sb" style="top:498px">Yasin Bakır</div>
<div class="n1" style="top:492px">33</div><div class="n2" style="top:492px">%0.25</div>
<div class="n3 up" style="top:492px">+0.25</div>
<svg class="ar" style="top:493px" viewBox="0 0 11 12"><path d="M5.500 0.500 L10.500 6 H7.500 V11.500 H3.500 V6 H0.500Z" fill="#1a9a1a"/></svg>
<div class="row" style="top:520px"></div>
<div class="ib" style="top:527px"><svg viewBox="0 0 29 29" ><rect width="29" height="29" fill="#3cc63c"/><ellipse cx="16.500" cy="9" rx="4.800" ry="6.500" fill="none" stroke="#fff" stroke-width="1" transform="rotate(28 16.500 9)"/><ellipse cx="13.500" cy="10" rx="3.500" ry="6" fill="none" stroke="#fff" stroke-width=".8" transform="rotate(28 13.500 10)"/><path d="M8 15.500 q4 -2.300 8.500 -1.300 q4 .6 5 2.600 q-3 2 -7 1.500 q-4.500 0 -6.500 -2.800Z" fill="#fff"/><path d="M10.500 17.500 l-1.500 2.500M13.500 18 l-.5 2.500M17 18 l.5 2.500M20 17.500 l1.500 2.500" stroke="#fff" stroke-width=".8"/><text x="14.500" y="26.600" font-size="5" font-weight="bold" text-anchor="middle" fill="#fff" font-family="Liberation Sans, sans-serif" textLength="23" lengthAdjust="spacingAndGlyphs">ANAVATAN</text></svg></div>
<div class="nm" style="top:530px">ANAVATAN</div><div class="sb" style="top:543px">Menşure Yavuz</div>
<div class="n1" style="top:537px">22</div><div class="n2" style="top:537px">%0.16</div>
<div class="dash" style="top:542px"></div>
<div class="t" style="left:552.30px;top:570.04px;font-size:11.00px;line-height:12.29px;color:#c80f24;transform:scaleX(0.9649);">* 2004 yerel seçimine göre değişim</div>
</body>
</html>
